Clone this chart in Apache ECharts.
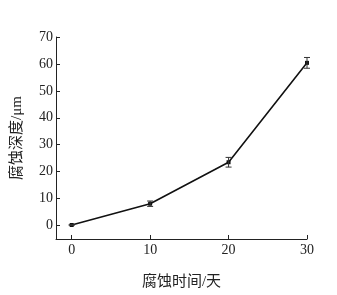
<!DOCTYPE html>
<html><head><meta charset="utf-8">
<script src="https://cdn.jsdelivr.net/npm/echarts@6/dist/echarts.min.js"></script>
<style>html,body{margin:0;padding:0;background:#fff}#c{width:337px;height:295px}</style>
</head><body><div id="c"></div>
<script>
const days = [0, 10, 20, 30];
const depth = [0.2, 8.1, 23.5, 60.4];
const errLow = [0.1, 7.1, 21.7, 58.4];
const errHigh = [0.3, 9.1, 25.3, 62.4];
const xTicks = [0, 10, 20, 30];
const yTicks = [0, 10, 20, 30, 40, 50, 60, 70];

const font = '"Liberation Serif", "Noto Sans CJK SC", serif';
const chart = echarts.init(document.getElementById('c'), null, {renderer: 'canvas'});
chart.setOption({
  animation: false,
  grid: {left: 56, top: 37, right: 30, bottom: 51, containLabel: false},
  xAxis: {
    type: 'value', min: -2, max: 30,
    name: '腐蚀时间/天', nameLocation: 'middle', nameGap: 36,
    nameTextStyle: {fontFamily: font, fontSize: 15, color: '#222'},
    axisLine: {onZero: false, lineStyle: {color: '#222', width: 1}},
    axisTick: {inside: true, length: 4, lineStyle: {color: '#222'}, customValues: xTicks},
    axisLabel: {fontFamily: font, fontSize: 14, color: '#222', margin: 4, customValues: xTicks},
    splitLine: {show: false}
  },
  yAxis: {
    type: 'value', min: -5, max: 70,
    name: '腐蚀深度/μm', nameLocation: 'middle', nameGap: 31, nameRotate: 90,
    nameTextStyle: {fontFamily: font, fontSize: 15, color: '#222'},
    axisLine: {show: true, onZero: false, lineStyle: {color: '#222', width: 1}},
    axisTick: {show: true, inside: true, length: 4, lineStyle: {color: '#222'}, customValues: yTicks},
    axisLabel: {fontFamily: font, fontSize: 14, color: '#222', margin: 3, customValues: yTicks},
    splitLine: {show: false}
  },
  series: [
    {
      type: 'line',
      data: days.map((d, i) => [d, depth[i]]),
      symbol: 'rect', symbolSize: 4,
      lineStyle: {color: '#111', width: 1.6},
      itemStyle: {color: '#111'},
      z: 3
    },
    {
      type: 'custom',
      data: days.map((d, i) => [d, errLow[i], errHigh[i]]),
      renderItem: function (params, api) {
        const x = api.value(0);
        const lo = api.coord([x, api.value(1)]);
        const hi = api.coord([x, api.value(2)]);
        const w = 3;
        const st = {stroke: '#333', lineWidth: 1};
        return {type: 'group', children: [
          {type: 'line', shape: {x1: lo[0], y1: lo[1], x2: hi[0], y2: hi[1]}, style: st},
          {type: 'line', shape: {x1: lo[0]-w, y1: lo[1], x2: lo[0]+w, y2: lo[1]}, style: st},
          {type: 'line', shape: {x1: hi[0]-w, y1: hi[1], x2: hi[0]+w, y2: hi[1]}, style: st}
        ]};
      },
      z: 4
    }
  ]
});
</script></body></html>
